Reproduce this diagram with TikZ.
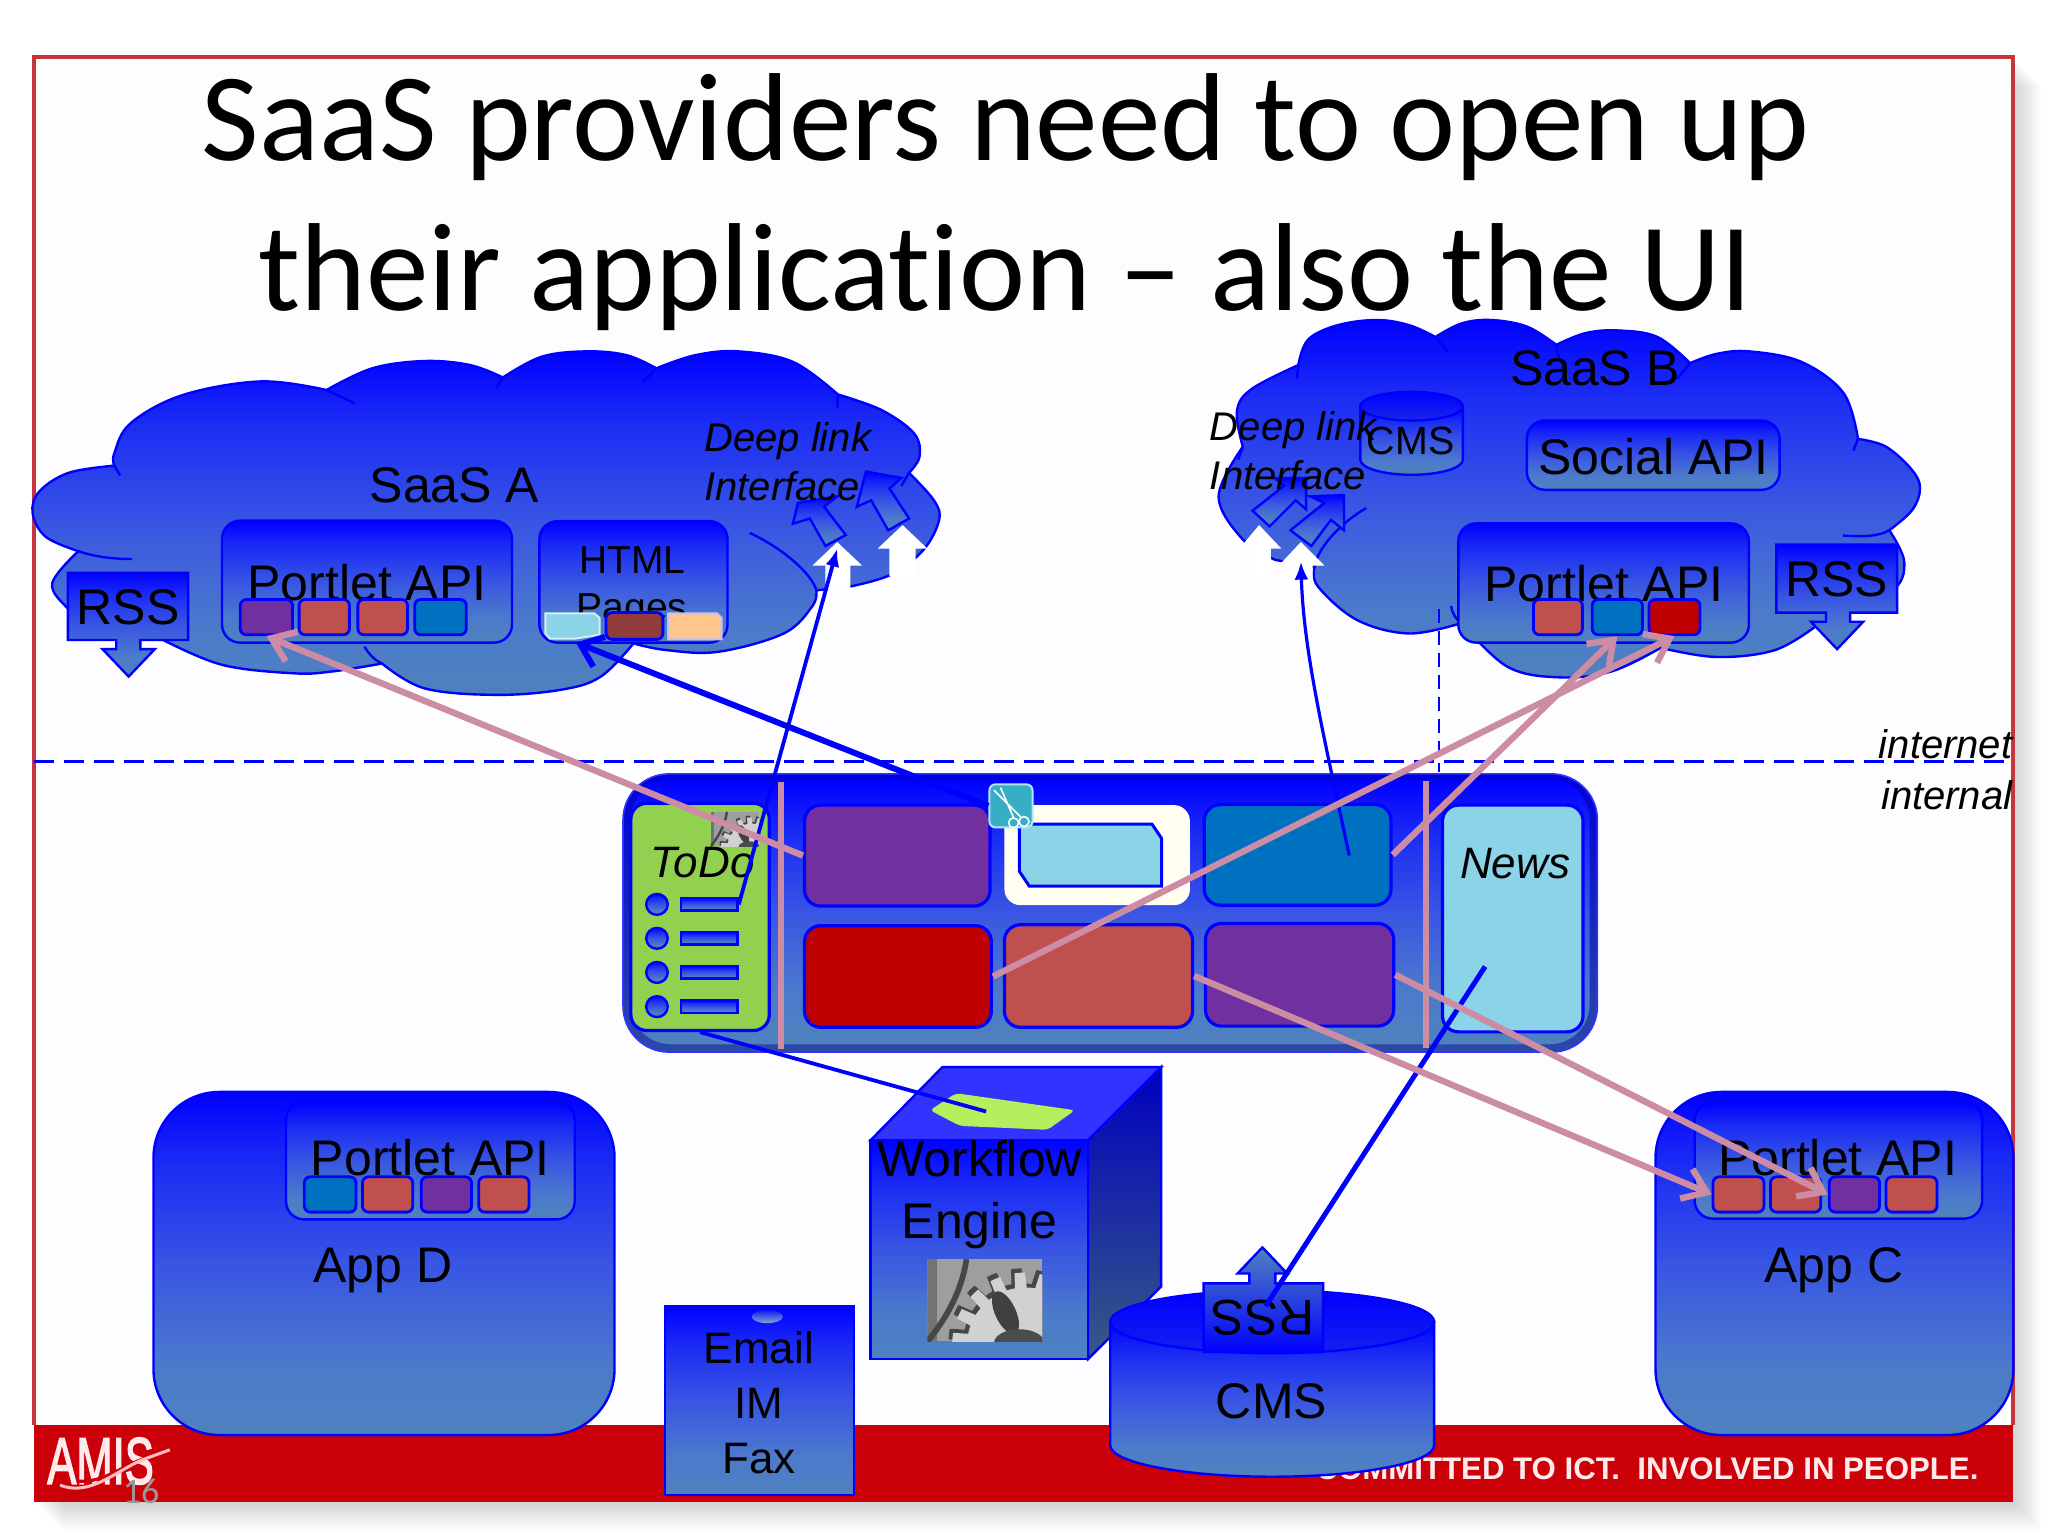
\documentclass[tikz,border=0pt]{standalone}
\usepackage{fontspec}
\setmainfont{Liberation Sans}
\newfontfamily\calib[Ligatures=NoCommon]{Carlito}
\newfontfamily\logof[FakeBold=2.5]{Liberation Sans}
\usetikzlibrary{calc,arrows.meta,shapes.geometric}
\definecolor{gblue}{HTML}{0000FF}
\definecolor{gsteel}{HTML}{4F81BD}
\definecolor{gA}{HTML}{4C7ACB}
\definecolor{gB}{HTML}{3855E3}
\definecolor{gC}{HTML}{1A2AF5}
\pgfdeclareverticalshading{bluegrad}{100bp}{color(0bp)=(gsteel); color(25bp)=(gsteel); color(35bp)=(gA); color(50bp)=(gB); color(65bp)=(gC); color(75bp)=(gblue); color(100bp)=(gblue)}
\definecolor{lpurple}{HTML}{7030A0}
\definecolor{lred}{HTML}{C0504D}
\definecolor{lblue}{HTML}{0070C0}
\definecolor{ldred}{HTML}{BE0000}
\definecolor{lsky}{HTML}{8BD3E6}
\definecolor{lpink}{HTML}{CC8CA4}
\definecolor{lgreen}{HTML}{92D050}
\definecolor{band}{HTML}{CC0008}
\definecolor{paper}{HTML}{FDFDFF}
\definecolor{frame}{HTML}{C8343C}
\definecolor{limegr}{HTML}{B4F05E}
\definecolor{scteal}{HTML}{38AEC5}
\def\un{0.65306pt}
\newcommand{\bx}[6]{\node[#2,inner sep=0pt,minimum width={(#5-#3)*\un},minimum height={(#6-#4)*\un}] (#1) at ({(#3+#5)/2},{(#4+#6)/2}) {};}
\newcommand{\gearimg}[4]{%
\begin{scope}
\clip (#1,#2) rectangle (#3,#4);
\pgfmathsetmacro{\gw}{#3-#1}\pgfmathsetmacro{\gh}{#4-#2}
\pgfmathsetmacro{\gcx}{#1+.85*\gw}\pgfmathsetmacro{\gcy}{#2+1.05*\gh}\pgfmathsetmacro{\gr}{.57*\gw}\pgfmathsetmacro{\ga}{.065*\gw}
\fill[black!38] (#1,#2) rectangle (#3,#4);
\fill[black!55] (#1,#2) rectangle ({#1+.08*\gw},#4);
\draw[black!72,line width={.05*\gw*\un}] ({#1+.34*\gw},#2) .. controls ({#1+.3*\gw},{#2+.4*\gh}) and ({#1+.15*\gw},{#2+.75*\gh}) .. (#1,#4);
\fill[black!72] plot[samples=217,domain=0:360] ({\gcx-.03*\gw+(\gr+\ga*sign(sin(18*\x)))*cos(\x)},{\gcy-.05*\gh+(\gr+\ga*sign(sin(18*\x)))*sin(\x)}) -- cycle;
\fill[black!18] plot[samples=217,domain=0:360] ({\gcx+(\gr+\ga*sign(sin(18*\x)))*cos(\x)},{\gcy+(\gr+\ga*sign(sin(18*\x)))*sin(\x)}) -- cycle;
\fill[black!75,rotate around={-65:({#1+.68*\gw},{#2+.65*\gh})}] ({#1+.68*\gw},{#2+.65*\gh}) ellipse[x radius={.2*\gw},y radius={.09*\gw}];
\fill[black!70] ({#1+.8*\gw},{#2+1.02*\gh}) ellipse[x radius={.22*\gw},y radius={.12*\gw}];
\end{scope}}
\tikzset{
 x=\un,y=-\un,
 grad/.style={shade,shading=bluegrad,draw=gblue,line width=1.2pt},
 lobed/.style={grad,smooth,tension=.6},
 rbox/.style={grad,rounded corners=9pt,rectangle},
 tile/.style={draw=gblue,line width=1.4pt,rounded corners=3pt,rectangle},
 bigtile/.style={draw=gblue,line width=1.6pt,rounded corners=8pt,rectangle},
 line/.style={draw=gblue,line width=1.2pt},
 t25/.style={font=\fontsize{25}{30}\selectfont,inner sep=0pt,anchor=base,text=black},
 it20/.style={font=\fontsize{20}{24.4}\selectfont\itshape,inner sep=0pt,text=black,align=left,anchor=north west},
 it22/.style={font=\fontsize{22}{26}\selectfont\itshape,inner sep=0pt,text=black,anchor=base},
 pinkarrow/.style={draw=lpink,line width=3.2pt,-{Straight Barb[length=11pt,width=16pt,line width=3.2pt]}},
 bluearrow/.style={draw=gblue,line width=3pt,-{Straight Barb[length=10pt,width=16pt,line width=3pt]}},
 thinblue/.style={draw=gblue,line width=1.9pt},
}
\begin{document}
\begin{tikzpicture}
\useasboundingbox (0,0) rectangle (1568,1176);
\fill[white] (0,0) rectangle (1568,1176);
% slide
\foreach \d in {1,2,...,22}{\fill[black,opacity=.009] ({26+\d},{44+\d}) rectangle ({1541+\d},{1150+\d});}
\fill[paper] (26,44) rectangle (1541,1150);
\fill[band] (26,1091) rectangle (1541,1150);
\draw[draw=frame,line width=2pt] (26,1091) -- (26,44) -- (1541,44) -- (1541,1091);
% footer
\node[font=\fontsize{15.6}{18}\selectfont\bfseries,text=white!92!red,inner sep=0pt,anchor=base east] (foot) at (1515,1133) {COMMITTED TO ICT.\ \ INVOLVED IN PEOPLE.};
\node[font=\logof\fontsize{33}{36}\selectfont,text=white!92!red,inner sep=0pt,anchor=base,xscale=.66] (amis) at (77,1136) {AMIS};
\draw[band,line width=1.6pt] (60,1134) .. controls (80,1135) and (90,1124) .. (112,1116);
\draw[white!75!red,line width=1.5pt] (46,1137) .. controls (68,1146) and (88,1127) .. (108,1118) -- (130,1110);
\node[font=\calib\fontsize{18}{20}\selectfont,text=black!40,inner sep=0pt,anchor=base] (pageno) at (108,1151) {16};
% title
\node[font=\calib\fontsize{62.6}{75}\selectfont,align=center,inner sep=0pt,anchor=north] (title) at (770,56) {SaaS providers need to open up\\their application – also the UI};
% internet line
\draw[thinblue,dash pattern=on 10pt off 5pt] (26,583) coordinate (dl) -- (1541,583) coordinate (dr);
\node[font=\fontsize{20}{24}\selectfont\itshape,inner sep=0pt,anchor=base east] (inet) at (1541,581) {internet};
\node[font=\fontsize{20}{24}\selectfont\itshape,inner sep=0pt,anchor=base east] (iint) at (1541,620) {internal};
% cloud A
\shade[lobed] plot coordinates {(60,422)(35,411)(25,393)(30,376.4)(52.5,362)(87.5,356.5)}
 -- plot coordinates {(87.5,356.5)(87.5,347)(100,324)(140,302.4)(200,292)(250,298.6)}
 -- plot coordinates {(250,298.6)(285,282)(325,276.4)(360,279.5)(385,289)}
 -- plot coordinates {(385,289)(415,273)(450,269)(480,272)(502.5,282)}
 -- plot coordinates {(502.5,282)(532,272)(565,269)(607,277)(641.5,302)}
 -- plot coordinates {(641.5,302)(675,314)(700,332)(704,349.6)(696,362)}
 -- plot coordinates {(696,362)(715,383)(719,398)(707,421)(682,440)(651,449)}
 -- (625,452)
 -- plot coordinates {(625,452)(622,464)(600,485)(550,499)(510,497.7)(485,492.6)}
 -- plot coordinates {(485,492.6)(460,518)(430,528)(380,532)(325,527)(292.5,508)}
 -- plot coordinates {(292.5,508)(255,514)(225,515.5)(170,509)(125,490)}
 -- plot coordinates {(125,490)(70,480)(52,466)(40,446.6)(60,422)} -- cycle;
\draw[line] (60,422) .. controls (72,426) and (85,428) .. (101,428);
\draw[line] (87.5,356.5) -- (92,364);
\draw[line] (250,298.6) -- (272,309);
\draw[line] (385,289) -- (380,297);
\draw[line] (502.5,282) -- (492,293);
\draw[line] (641.5,302) -- (641,312);
\draw[line] (696,362) -- (690,372);
\draw[line] (574,408) .. controls (600,420) and (622,440) .. (625,452);
\draw[line] (279,495) .. controls (282,500) and (286,505) .. (292.5,508);
% white arrows A
\fill[white] (641,415) -- (660,433) -- (651,433) -- (651,452) -- (632,452) -- (632,433) -- (622,433) -- cycle;
\fill[white] (691,402) -- (710,420) -- (701,420) -- (701,441) -- (681,441) -- (681,420) -- (672,420) -- cycle;
% deep-link chevrons A
\shade[grad] (611,385) -- (641,380) -- (631,388) -- (647.5,409.6) -- (632,418) -- (620,397) -- (607,401) -- cycle;
\shade[grad] (663,361) -- (690,366) -- (681,374) -- (696,397) -- (680,406) -- (667,383) -- (656,388) -- cycle;
\node[it20] (dlA) at (539,323) {Deep link\\Interface};
\node[t25] (saasA) at (348,385) {SaaS A};
% RSS A
\shade[grad] (52,438.5) -- (144,438.5) -- (144,490) -- (107.5,490) -- (107.5,497) -- (118.5,497) -- (98.5,518) -- (78.5,497) -- (89,497) -- (89,490) -- (52,490) -- cycle;
\node[t25] (rssA) at (98,478.5) {RSS};
% portlet A
\bx{pA}{rbox}{170}{398.6}{392}{492}
\node[t25] (pAt) at (281,459.5) {Portlet API};
\bx{a1}{tile,fill=lpurple}{184}{459}{224}{486}
\bx{a2}{tile,fill=lred}{229}{459}{267.5}{486}
\bx{a3}{tile,fill=lred}{274}{459}{312}{486}
\bx{a4}{tile,fill=lblue}{317.5}{459}{357}{486}
% HTML pages
\bx{hA}{rbox}{413}{399}{557}{492}
\node[font=\fontsize{19.5}{23.5}\selectfont,align=center,inner sep=0pt,anchor=north] (htmlt) at (484,418) {HTML\\Pages};
\fill[lsky,draw=lsky!40!white,line width=1pt] (417.5,469.6) -- (455,469.6) -- (459,473) -- (459,486) -- (440,489) -- (421,489) -- (417.5,485) -- cycle;
\bx{h2}{tile,fill=lred!75!black}{464}{469}{507.5}{489.5}
\fill[orange!45!white,draw=gblue!25!white,line width=1pt] (511.5,469.6) -- (549,469.6) -- (552.5,473) -- (552.5,489.5) -- (511.5,489.5) -- cycle;
\coordinate (h1s) at (441,492);
% cloud B
\shade[lobed] plot coordinates {(951.5,342)(947,315)(958,298)(994,279.5)}
 -- plot coordinates {(994,279.5)(1001.5,260)(1024,249)(1054,245)(1079,249)(1099,258)}
 -- plot coordinates {(1099,258)(1119,247.6)(1141.5,245)(1169,250)(1191.5,264)}
 -- plot coordinates {(1191.5,264)(1214,255)(1239,253)(1269,258)(1294,278)}
 -- plot coordinates {(1294,278)(1314,271)(1339,269)(1379,277)(1411.5,301)(1422.5,336)}
 -- plot coordinates {(1422.5,336)(1444,342)(1464,360)(1470,374)(1464,390.5)(1446.5,406)}
 -- plot coordinates {(1446.5,406)(1458,431)(1446.5,454)(1391.5,478.5)}
 -- plot coordinates {(1391.5,478.5)(1359,497.7)(1314,503)(1271.5,496)}
 -- plot coordinates {(1271.5,496)(1234,514)(1194,518.6)(1154,510.4)(1119,477)}
 -- plot coordinates {(1119,477)(1079,485)(1039,474.7)(1009,449)(1006.5,434)}
 -- (976.5,428.7)
 -- plot coordinates {(976.5,428.7)(951.5,413)(933,380)(951.5,342)} -- cycle;
\draw[line] (951.5,342) -- (948,352);
\draw[line] (994,279.5) -- (993,290);
\draw[line] (1099,258) -- (1109,270);
\draw[line] (1191.5,264) -- (1194,276);
\draw[line] (1294,278) -- (1284,290);
\draw[line] (1422.5,336) -- (1419,345);
\draw[line] (1411,410) .. controls (1425,411) and (1438,411) .. (1446.5,406);
\draw[line] (1006,436) .. controls (1008,418) and (1030,398) .. (1046,389);
\draw[line] (1111,464) .. controls (1112,470) and (1115,475) .. (1119,477);
% cms small
\shade[grad] (1041.5,311) -- (1041.5,352) arc[start angle=180,end angle=0,x radius=39.25,y radius=11.5] -- (1120,311) -- cycle;
\shade[draw=gblue,line width=1.2pt,top color=gblue,bottom color=gblue!70!gsteel] (1080.75,311) ellipse[x radius=39.25,y radius=11];
\node[font=\fontsize{19.7}{24}\selectfont,inner sep=0pt,anchor=base] (cmsS) at (1080,348) {CMS};
% white arrows B
\fill[white] (964,402) -- (981,420) -- (973,420) -- (973,441) -- (957,441) -- (957,420) -- (949,420) -- cycle;
\fill[white] (996,415) -- (1014,433) -- (1005,433) -- (1005,452) -- (988,452) -- (988,433) -- (979,433) -- cycle;
% chevrons B
\shade[grad] (976,366) -- (1000,366) -- (1000,390) -- (992,383) -- (972,403) -- (959,391) -- (983,372) -- cycle;
\shade[grad] (1003,380) -- (1029,379) -- (1029,406) -- (1019,398) -- (1004,418) -- (988,406) -- (1014,385) -- cycle;
\node[it20] (dlB) at (926,315) {Deep link\\Interface};
\node[t25] (saasB) at (1221,295) {SaaS B};
\bx{sB}{rbox}{1169}{322}{1362.5}{375}
\node[t25] (sBt) at (1266,363) {Social API};
% portlet B
\bx{pB}{rbox}{1116.5}{400.7}{1339}{492}
\node[t25] (pBt) at (1228,460.5) {Portlet API};
\bx{b1}{tile,fill=lred}{1174}{459}{1211.5}{486}
\bx{b2}{tile,fill=lblue}{1219}{459}{1257.5}{486}
\bx{b3}{tile,fill=ldred}{1262.5}{459}{1301.5}{486}
% RSS B
\shade[grad] (1360,417) -- (1452.5,417) -- (1452.5,469) -- (1416.5,469) -- (1416.5,476) -- (1426.5,476) -- (1406.5,497) -- (1386.5,476) -- (1398,476) -- (1398,469) -- (1360,469) -- cycle;
\node[t25] (rssB) at (1406,457) {RSS};
% vertical dashed
\coordinate (vt) at (1102,466);
\coordinate (vb) at (1102,591);
\draw[draw=gblue,line width=1pt,dash pattern=on 7pt off 4pt] (vt) -- (vb);
% central panel
\node[rectangle,rounded corners=23pt,inner sep=0pt,top color=gblue!85!black,bottom color=gsteel!70!blue!80!black,draw=gblue!80!white,line width=.8pt,minimum width={746*\un},minimum height={213*\un}] (panel) at (850,699) {};
\node[rectangle,rounded corners=20pt,inner sep=0pt,shade,shading=bluegrad,minimum width={734*\un},minimum height={203*\un}] (panelin) at (850,698) {};
\bx{todo}{bigtile,fill=lgreen}{483}{615}{589}{789}
\bx{gr1}{bigtile,fill=lpurple}{616}{616.4}{758}{693.7}
\bx{gw}{bigtile,draw=none,fill=white!94!yellow}{769}{616.4}{911}{693}
\draw[line,fill=lsky,line width=1.5pt] (780.4,631) -- (882,631) -- (889.4,642) -- (889.4,678.4) -- (788,678.4) -- (780.4,667) -- cycle;
\bx{gb}{bigtile,fill=lblue}{922}{616}{1065}{693}
\bx{rr}{bigtile,fill=ldred}{616}{708.7}{759}{786.5}
\bx{rm}{bigtile,fill=lred}{769}{708}{913}{786.5}
\bx{rp}{bigtile,fill=lpurple}{923}{707}{1067}{785.6}
\bx{news}{bigtile,fill=lsky}{1104.4}{616.4}{1212}{790}
\node[it22] (newst) at (1160,672.5) {News};
% gear in ToDo
\gearimg{544}{621.5}{581}{648}
\node[it22] (todot) at (538,671.7) {ToDo};
% todo list
\foreach \n/\y in {1/692.4,2/718.4,3/744.5,4/770.7}{
 \node[ellipse,grad,inner sep=0pt,minimum width={16.5*\un},minimum height={16*\un}] (c\n) at (503,\y) {};
 \node[rectangle,grad,inner sep=0pt,minimum width={43.5*\un},minimum height={9.5*\un}] (bar\n) at (543,\y) {};
}
% pink dividers
\coordinate (d1t) at (597.9,598.5); \coordinate (d1b) at (597.9,803.4);
\coordinate (d2t) at (1091.4,598); \coordinate (d2b) at (1091.4,802.6);
\draw[draw=lpink,line width=3pt] (d1t) -- (d1b);
\draw[draw=lpink,line width=3pt] (d2t) -- (d2b);
% scissors icon
\node[rectangle,rounded corners=3pt,fill=scteal,draw=cyan!30!white,line width=1pt,inner sep=0pt,minimum width={33*\un},minimum height={33*\un}] (sc) at (774,617) {};
\draw[white,line width=.8pt] (761,605) -- (782,626) (766,603) -- (776,626);
\draw[white,line width=.8pt] (784,629) circle (3.8) (776,630) circle (3.8);
% App D
\bx{appD}{grad,rounded corners=33pt,rectangle}{117.5}{836}{470.5}{1098.7}
\bx{pD}{rbox}{219}{843.5}{440}{933.6}
\node[t25] (pDt) at (329.5,900) {Portlet API};
\bx{d1}{tile,fill=lblue}{233}{901}{272.5}{928}
\bx{d2}{tile,fill=lred}{277.5}{901}{316}{928}
\bx{d3}{tile,fill=lpurple}{322.5}{901}{361}{928}
\bx{d4}{tile,fill=lred}{366.5}{901}{405}{928}
\node[t25] (appDt) at (293,982) {App D};
% App C
\bx{appC}{grad,rounded corners=33pt,rectangle}{1267.5}{836}{1541.5}{1098.7}
\bx{pC}{rbox}{1297.5}{843.5}{1517.5}{933}
\node[t25] (pCt) at (1407,900) {Portlet API};
\bx{e1}{tile,fill=lred}{1311.5}{901}{1350.5}{928}
\bx{e2}{tile,fill=lred}{1355.5}{901}{1394}{928}
\bx{e3}{tile,fill=lpurple}{1400.5}{901}{1439}{928}
\bx{e4}{tile,fill=lred}{1444}{901}{1483}{928}
\node[t25] (appCt) at (1404,982) {App C};
% Email box
\bx{mail}{grad,rectangle}{509}{1000}{654}{1144.6}
\shade[top color=gblue!80!gsteel,bottom color=gsteel!70!white] (587.5,1008) ellipse[x radius=12,y radius=5];
\node[font=\fontsize{22}{27.6}\selectfont,align=center,inner sep=0pt,anchor=north] (mailt) at (581,1019) {Email\\IM\\Fax};
% workflow cube
\fill[draw=gblue,line width=1.2pt,fill=blue!80!white] (666.5,873) -- (721.5,817) -- (889,817) -- (833,873) -- cycle;
\shade[top color=gblue!75!black,bottom color=gsteel!70!black,draw=gblue,line width=1.2pt] (833,873) -- (889,817) -- (889,985) -- (833,1040.5) -- cycle;
\bx{wf}{grad,rectangle}{666.5}{873}{833}{1040.5}
\fill[limegr,rounded corners=2pt] (712,850) -- (732,837) -- (823,850) -- (802,865) -- (735,862) -- cycle;
\coordinate (wfg) at (755,851);
\node[font=\fontsize{25}{30.7}\selectfont,align=center,inner sep=0pt,anchor=north] (wft) at (750,873) {Workflow\\Engine};
\gearimg{710}{964}{798}{1027}
% big CMS cylinder
\shade[grad] (850,1012) -- (850,1106.6) arc[start angle=180,end angle=0,x radius=124,y radius=24] -- (1098,1012) -- cycle;
\shade[draw=gblue,line width=1.2pt,top color=gblue,bottom color=gblue!75!gsteel] (974,1012) ellipse[x radius=124,y radius=24];
\node[t25] (cmsB) at (973.5,1086) {CMS};
% RSS on CMS
\shade[top color=gsteel,bottom color=gblue,draw=gblue,line width=1.2pt] (921.5,1035) -- (921.5,982.6) -- (956.5,982.6) -- (956.5,975) -- (947.5,975) -- (966.5,955) -- (985.5,975) -- (976.5,975) -- (976.5,982.6) -- (1013,982.6) -- (1013,1035) -- cycle;
\node[font=\fontsize{25}{30}\selectfont,inner sep=0pt,rotate=180] (rssC) at (967,1008.6) {RSS};
\coordinate (rssCend) at (969,1000);
% connectors
\coordinate (tipA) at (641,420);
\coordinate (tipB) at (996,430);
\coordinate (gbIn) at (1033,655);
\coordinate (newsIn) at (1137,740);
\draw[draw=gblue,line width=1.9pt,-{Latex[length=9pt,width=7pt]}] (bar1.east) -- (tipA);
\draw[draw=gblue,line width=1.6pt,-{Latex[length=9pt,width=7pt]}] (gbIn) .. controls (1015,570) and (998,500) .. (tipB);
\draw[bluearrow] (sc.west) -- (h1s);
\draw[thinblue] (todo.south) -- (wfg);
\draw[draw=gblue,line width=2.5pt] (newsIn) -- (rssCend);
\draw[pinkarrow] (gr1.west) -- (a1.south);
\draw[pinkarrow] (rr.east) -- (b3.south);
\draw[pinkarrow] (gb.east) -- (b2.south);
\draw[pinkarrow] (rm.east) -- (e1.west);
\draw[pinkarrow] (rp.east) -- (e3.west);
\end{tikzpicture}
\end{document}
